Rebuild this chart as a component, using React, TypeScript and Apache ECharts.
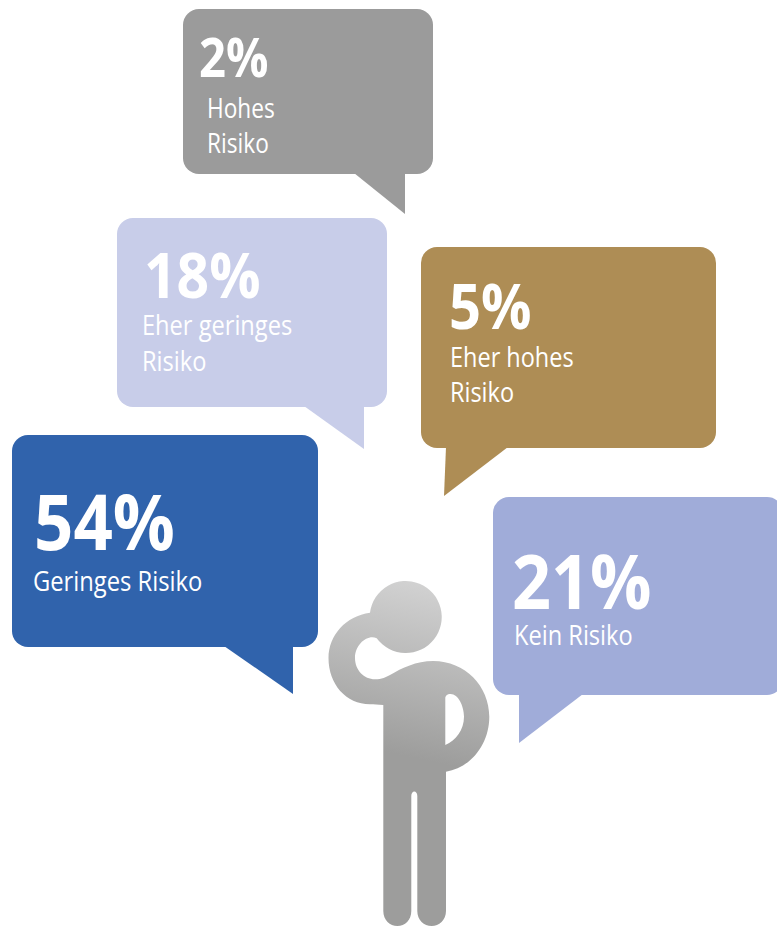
import React, { useEffect, useRef } from "react";
import * as echarts from "echarts";

// Survey answers: share of respondents per perceived risk level.
const shares = [2, 18, 5, 54, 21];
const labelLines = [
  ["Hohes", "Risiko"],
  ["Eher geringes", "Risiko"],
  ["Eher hohes", "Risiko"],
  ["Geringes Risiko"],
  ["Kein Risiko"],
];
const bubbleColors = ["#9b9b9b", "#c8cde9", "#ae8d55", "#3063ac", "#a0acd9"];

// Speech bubble outlines: box as [x, y, width, height], tail as three points.
const boxes = [
  [183, 9, 250, 165],
  [117, 218, 270, 189],
  [421, 247, 295, 201],
  [12, 435, 306, 212],
  [493, 497, 290, 198],
];
const tails = [
  [[354, 173], [405, 173], [405, 214]],
  [[304, 406], [364, 406], [364, 449]],
  [[446, 447], [508, 447], [444, 496]],
  [[224, 646], [293, 646], [293, 694]],
  [[519, 694], [583, 694], [519, 743]],
];
// Text placement: value x, value centre y, value size, value x-scale,
// label x, first label centre y, label size, label x-scale, label line step.
const textLayout = [
  [199, 56, 53, 0.89, 207, 107, 27, 0.84, 35],
  [144, 274, 62, 0.92, 142, 324, 27, 0.875, 36],
  [449, 304, 63, 0.89, 450, 356, 27, 0.87, 35],
  [34, 520, 77, 0.895, 33, 580, 27, 0.88, 0],
  [512, 580, 75, 0.91, 514, 634, 27, 0.875, 0],
];

const FIGURE_PATH =
  "M383.3 705 C378 704.8 374 704.3 370 704.3 C346 704.3 328.5 684 328.5 658 C328.5 635 346 616 370 612.7 " +
  "A36 36 0 1 1 376.7 638.3 C368 634 355 644 355 658 C355 670 364 679.3 375 679.3 " +
  "C382 679.3 386 677 390 675 C402 668 416 661 433.3 661 C465 661 489.3 686 489.3 716.7 " +
  "C489.3 745 470 768 446 771.7 L446 911 C446 920 439 926 431.7 926 C424 926 417.3 920 417.3 911 " +
  "L417.3 796 C417.3 790 411.3 790 411.3 796 L411.3 911 C411.3 920 405 926 397.3 926 " +
  "C390 926 383.3 920 383.3 911 Z " +
  "M445.3 698.3 L445.3 745 C456 740 464 730 464 716.7 C464 706 458 694 450.7 694 C447 694 445.3 696 445.3 698.3 Z";

const FONT = '"Open Sans", "Noto Sans", sans-serif';

echarts.graphic.registerShape("thinkingFigure", echarts.graphic.extendPath(FIGURE_PATH, {}) as any);

function renderBubble(params: any) {
  const i = params.dataIndex;
  const [x, y, width, height] = boxes[i];
  const [vx, vy, vSize, vScale, lx, ly, lSize, lScale, step] = textLayout[i];
  const fill = bubbleColors[i];
  const children: any[] = [
    { type: "rect", shape: { x, y, width, height, r: 16 }, style: { fill } },
    { type: "polygon", shape: { points: tails[i] }, style: { fill } },
    {
      type: "text",
      x: vx,
      y: vy,
      scaleX: vScale,
      style: {
        text: `${shares[i]}%`,
        fill: "#ffffff",
        fontFamily: FONT,
        fontWeight: 700,
        fontSize: vSize,
        verticalAlign: "middle",
        align: "left",
      },
    },
  ];
  labelLines[i].forEach((line, n) => {
    children.push({
      type: "text",
      x: lx,
      y: ly + n * step,
      scaleX: lScale,
      style: {
        text: line,
        fill: "#ffffff",
        fontFamily: FONT,
        fontWeight: 400,
        fontSize: lSize,
        verticalAlign: "middle",
        align: "left",
      },
    });
  });
  return { type: "group", children };
}

export default function App() {
  const ref = useRef<HTMLDivElement>(null);

  useEffect(() => {
    const chart = echarts.init(ref.current!, null, { renderer: "svg" });
    chart.setOption({
      animation: false,
      backgroundColor: "#ffffff",
      graphic: [
        {
          type: "thinkingFigure",
          silent: true,
          z: 1,
          style: {
            fill: new echarts.graphic.LinearGradient(
              422, 582, 386, 752,
              [
                { offset: 0, color: "#d2d2d2" },
                { offset: 1, color: "#9d9d9c" },
              ],
              true
            ),
          },
        },
      ],
      series: [
        {
          type: "custom",
          coordinateSystem: "none",
          silent: true,
          z: 2,
          data: shares,
          renderItem: renderBubble,
        },
      ],
    });
    return () => chart.dispose();
  }, []);

  return (
    <div
      ref={ref}
      style={{ position: "absolute", left: 0, top: 0, width: 777, height: 926, overflow: "hidden" }}
    />
  );
}
